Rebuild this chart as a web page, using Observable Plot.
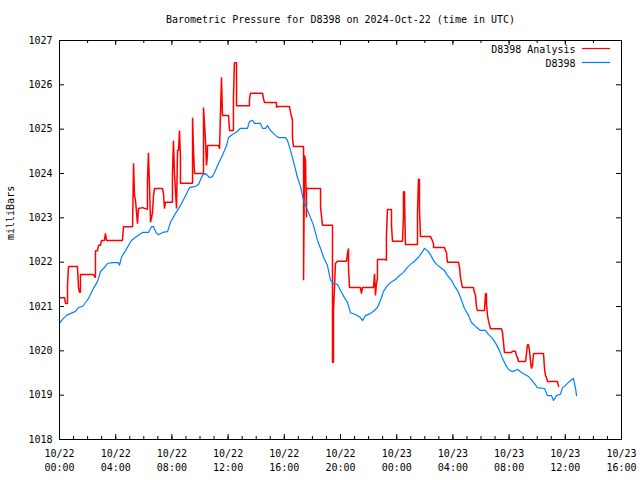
<!DOCTYPE html>
<html>
<head>
<meta charset="utf-8">
<script src="https://cdn.jsdelivr.net/npm/d3@7"></script>
<script src="https://cdn.jsdelivr.net/npm/@observablehq/plot@0.6"></script>
<style>
  html, body { margin: 0; padding: 0; background: #fff; }
</style>
</head>
<body>
<div id="chart"></div>
<script>
// ---------- data ----------
const chartTitle = "Barometric Pressure for D8398 on 2024-Oct-22 (time in UTC)";
const yAxisLabel = "milliBars";
const seriesNames = ["D8398 Analysis", "D8398"];
const seriesColors = ["#ff0000", "#0080ff"];
const startTime = "2024-10-22T00:00:00Z";
const endTime = "2024-10-23T16:00:00Z";
const yTicks = [1018, 1019, 1020, 1021, 1022, 1023, 1024, 1025, 1026, 1027];

// [hours since 2024-10-22 00:00 UTC, pressure mb]
const analysisReadings = [
  [0,1021.20],[0.36,1021.20],[0.43,1021.07],[0.57,1021.07],[0.57,1021.47],[0.64,1021.90],[1.28,1021.90],
  [1.35,1021.43],[1.42,1021.32],[1.49,1021.32],[1.49,1021.72],[1.57,1021.72],[2.42,1021.72],[2.56,1021.65],
  [2.56,1022.26],[2.70,1022.26],[2.78,1022.38],[2.92,1022.38],[2.99,1022.49],[3.20,1022.49],[3.27,1022.65],
  [3.35,1022.49],[4.48,1022.49],[4.55,1022.80],[5.20,1022.80],[5.27,1024.23],[5.34,1023.50],[5.41,1023.39],
  [5.55,1022.87],[5.62,1023.21],[5.91,1023.23],[6.26,1023.19],[6.26,1023.84],[6.33,1024.47],[6.41,1023.68],
  [6.48,1022.90],[6.62,1023.12],[6.69,1023.50],[6.76,1023.66],[7.33,1023.66],[7.40,1023.55],[7.47,1023.21],
  [7.54,1023.35],[8.04,1023.35],[8.04,1024.02],[8.11,1024.74],[8.18,1024.02],[8.33,1023.21],[8.40,1024.52],
  [8.47,1024.52],[8.54,1024.97],[8.61,1024.36],[8.61,1023.78],[9.47,1023.78],[9.47,1025.26],[9.54,1024.52],
  [9.61,1024.00],[10.25,1024.00],[10.25,1025.49],[10.39,1024.74],[10.46,1024.18],[10.53,1024.41],[10.53,1024.63],
  [11.32,1024.63],[11.39,1024.56],[11.46,1025.38],[11.53,1026.17],[11.60,1025.31],[12.03,1025.31],[12.10,1024.97],
  [12.38,1024.97],[12.38,1025.71],[12.45,1026.50],[12.60,1026.50],[12.60,1025.53],[13.52,1025.53],[13.52,1025.67],
  [13.59,1025.81],[14.45,1025.81],[14.52,1025.69],[14.59,1025.60],[15.44,1025.60],[15.44,1025.49],[15.52,1025.51],
  [16.37,1025.51],[16.44,1025.38],[16.58,1025.20],[16.58,1024.81],[16.65,1024.61],[17.37,1024.61],[17.37,1021.59],
  [17.44,1024.41],[17.51,1024.29],[17.58,1023.01],[17.58,1023.68],[17.65,1023.66],[18.58,1023.66],[18.58,1023.23],
  [18.72,1022.83],[19.43,1022.83],[19.43,1021.29],[19.43,1019.74],[19.50,1019.74],[19.50,1020.86],[19.64,1021.97],
  [19.78,1022.02],[20.43,1022.02],[20.50,1022.20],[20.57,1022.31],[20.57,1021.88],[20.64,1021.43],[21.42,1021.43],
  [21.49,1021.29],[21.57,1021.43],[22.35,1021.43],[22.42,1021.74],[22.49,1021.25],[22.56,1021.52],[22.63,1021.63],
  [22.63,1022.06],[23.20,1022.06],[23.27,1022.04],[23.27,1022.60],[23.34,1023.19],[23.63,1023.19],[23.63,1022.83],
  [23.70,1022.47],[24.41,1022.47],[24.48,1023.01],[24.48,1023.59],[24.55,1023.59],[24.62,1022.40],[25.48,1022.40],
  [25.48,1023.12],[25.55,1023.87],[25.62,1023.87],[25.62,1023.23],[25.69,1022.58],[26.40,1022.58],[26.48,1022.53],
  [26.62,1022.42],[26.62,1022.33],[27.40,1022.33],[27.47,1022.26],[27.54,1022.22],[27.61,1022.00],[28.40,1022.00],
  [28.47,1021.88],[28.54,1021.65],[28.68,1021.43],[29.46,1021.43],[29.53,1021.32],[29.61,1021.25],[29.68,1020.98],
  [29.75,1020.91],[30.25,1020.91],[30.32,1021.29],[30.39,1021.29],[30.39,1021.07],[30.46,1020.80],[30.53,1020.68],
  [30.67,1020.50],[31.46,1020.50],[31.53,1020.41],[31.60,1020.19],[31.67,1019.96],[32.17,1019.96],[32.24,1019.99],
  [32.45,1019.99],[32.52,1019.89],[32.60,1019.85],[32.67,1019.76],[33.17,1019.76],[33.24,1019.94],[33.31,1020.14],
  [33.38,1020.14],[33.45,1020.01],[33.52,1019.78],[33.59,1019.60],[33.66,1019.67],[33.74,1019.94],[34.45,1019.94],
  [34.52,1019.60],[34.59,1019.44],[34.66,1019.40],[34.73,1019.31],[35.44,1019.31],[35.52,1019.20]
];

const stationReadings = [
  [0,1020.62],[0.21,1020.71],[0.50,1020.80],[0.78,1020.84],[1.14,1020.89],[1.35,1020.98],[1.64,1021.00],
  [1.85,1021.09],[2.06,1021.18],[2.42,1021.41],[2.70,1021.56],[2.92,1021.79],[3.20,1021.88],[3.42,1021.97],
  [3.77,1021.99],[4.20,1021.99],[4.27,1021.93],[4.41,1022.11],[4.70,1022.26],[5.12,1022.49],[5.41,1022.56],
  [5.91,1022.67],[6.33,1022.67],[6.55,1022.80],[6.69,1022.80],[6.90,1022.65],[7.05,1022.62],[7.33,1022.67],
  [7.69,1022.69],[7.90,1022.90],[8.26,1023.10],[8.61,1023.28],[8.97,1023.50],[9.25,1023.68],[9.68,1023.71],
  [9.89,1023.75],[10.18,1023.96],[10.39,1024.00],[10.68,1023.91],[10.89,1023.93],[11.10,1024.07],[11.32,1024.23],
  [11.60,1024.41],[11.89,1024.63],[12.03,1024.81],[12.31,1024.88],[12.60,1024.93],[12.88,1025.02],[13.38,1025.02],
  [13.52,1025.17],[13.74,1025.20],[13.88,1025.13],[14.31,1025.13],[14.45,1025.02],[14.66,1025.02],[14.80,1025.08],
  [15.02,1024.97],[15.37,1024.86],[15.59,1024.81],[16.08,1024.81],[16.23,1024.74],[16.44,1024.52],[16.73,1024.18],
  [16.94,1023.91],[17.15,1023.71],[17.37,1023.39],[17.58,1023.23],[17.86,1023.01],[18.08,1022.83],[18.36,1022.49],
  [18.58,1022.31],[18.79,1022.11],[19.07,1021.93],[19.29,1021.59],[19.50,1021.52],[19.78,1021.50],[20.00,1021.36],
  [20.28,1021.20],[20.50,1021.09],[20.71,1020.86],[21.07,1020.82],[21.42,1020.75],[21.57,1020.68],[21.78,1020.80],
  [22.13,1020.84],[22.42,1020.91],[22.63,1020.98],[22.85,1021.14],[23.06,1021.34],[23.34,1021.47],[23.56,1021.54],
  [23.91,1021.61],[24.20,1021.70],[24.48,1021.77],[24.70,1021.86],[24.98,1021.95],[25.27,1022.02],[25.55,1022.11],
  [25.76,1022.20],[25.98,1022.31],[26.19,1022.26],[26.40,1022.17],[26.62,1022.04],[26.83,1021.95],[27.12,1021.88],
  [27.40,1021.81],[27.61,1021.70],[27.90,1021.59],[28.18,1021.43],[28.40,1021.32],[28.61,1021.14],[28.82,1020.96],
  [29.11,1020.80],[29.32,1020.64],[29.68,1020.53],[29.96,1020.46],[30.32,1020.46],[30.53,1020.37],[30.82,1020.28],
  [31.10,1020.14],[31.31,1020.01],[31.53,1019.83],[31.74,1019.69],[31.96,1019.58],[32.24,1019.53],[32.60,1019.58],
  [32.81,1019.53],[33.10,1019.47],[33.38,1019.42],[33.59,1019.35],[33.81,1019.26],[34.02,1019.17],[34.52,1019.15],
  [34.73,1018.99],[35.02,1018.99],[35.16,1018.88],[35.37,1018.99],[35.66,1019.02],[35.80,1019.17],[36.01,1019.22],
  [36.30,1019.31],[36.58,1019.38],[36.73,1019.15],[36.80,1018.99]
];

// ---------- build ----------
const W = 640, H = 480;
const mL = 59, mR = 19, mT = 40, mB = 41;
const plotW = W - mL - mR, plotH = H - mT - mB;
const t0 = new Date(startTime), t1 = new Date(endTime);
const toRows = arr => arr.map(([h, p]) => ({t: new Date(+t0 + h * 3600000), p}));
const analysisRows = toRows(analysisReadings);
const stationRows = toRows(stationReadings);

const endPlus = new Date(+t1 + 1);
const majorTicks = d3.utcHour.every(4).range(t0, endPlus);
const hourTicks = d3.utcHour.range(t0, endPlus);
const twoHourTicks = d3.utcHour.every(2).range(t0, endPlus);
const fmt = d3.utcFormat("%m/%d\n%H:%M");
const font = "'DejaVu Sans Mono', 'Liberation Mono', monospace";

const plot = Plot.plot({
  width: W, height: H,
  marginLeft: mL, marginRight: mR, marginTop: mT, marginBottom: mB,
  style: {fontFamily: font, fontSize: "10px", background: "#fff", color: "#000"},
  x: {type: "utc", domain: [t0, t1]},
  y: {domain: [yTicks[0], yTicks[yTicks.length - 1]]},
  marks: [
    Plot.line(analysisRows, {x: "t", y: "p", stroke: seriesColors[0], strokeWidth: 1.5, strokeLinejoin: "miter"}),
    Plot.line(stationRows, {x: "t", y: "p", stroke: seriesColors[1], strokeWidth: 1.2}),
    // inward ticks
    Plot.ruleY(yTicks, {y: d => d, insetRight: plotW - 5, stroke: "#000"}),
    Plot.ruleY(yTicks, {y: d => d, insetLeft: plotW - 5, stroke: "#000"}),
    Plot.ruleX(hourTicks, {x: d => d, insetTop: plotH - 3, stroke: "#000"}),
    Plot.ruleX(majorTicks, {x: d => d, insetTop: plotH - 5, stroke: "#000"}),
    Plot.ruleX(twoHourTicks, {x: d => d, insetBottom: plotH - 3, stroke: "#000"}),
    Plot.ruleX(majorTicks, {x: d => d, insetBottom: plotH - 5, stroke: "#000"}),
    Plot.frame({stroke: "#000"}),
    Plot.axisX({ticks: majorTicks, tickFormat: fmt, tickSize: 0, tickPadding: 8, lineHeight: 1.4, label: null, fontSize: 10}),
    Plot.axisY({ticks: yTicks, tickFormat: d => String(d), tickSize: 0, tickPadding: 7, label: null, fontSize: 10}),
    Plot.text([yAxisLabel], {frameAnchor: "left", dx: -49, rotate: -90, lineAnchor: "middle", fontSize: 10}),
    Plot.text([chartTitle], {frameAnchor: "top", dy: -21, lineAnchor: "middle", fontSize: 10}),
    Plot.text([seriesNames[0]], {frameAnchor: "top-right", dx: -46, dy: 9, textAnchor: "end", lineAnchor: "middle", fontSize: 10}),
    Plot.text([seriesNames[1]], {frameAnchor: "top-right", dx: -46, dy: 23, textAnchor: "end", lineAnchor: "middle", fontSize: 10})
  ]
});

// legend swatches
const svg = d3.select(plot);
[0, 1].forEach(i => {
  svg.append("line")
    .attr("x1", 582).attr("x2", 610)
    .attr("y1", 48.5 + i * 14).attr("y2", 48.5 + i * 14)
    .attr("stroke", seriesColors[i]).attr("stroke-width", 1.2);
});

document.getElementById("chart").appendChild(plot);
</script>
</body>
</html>
